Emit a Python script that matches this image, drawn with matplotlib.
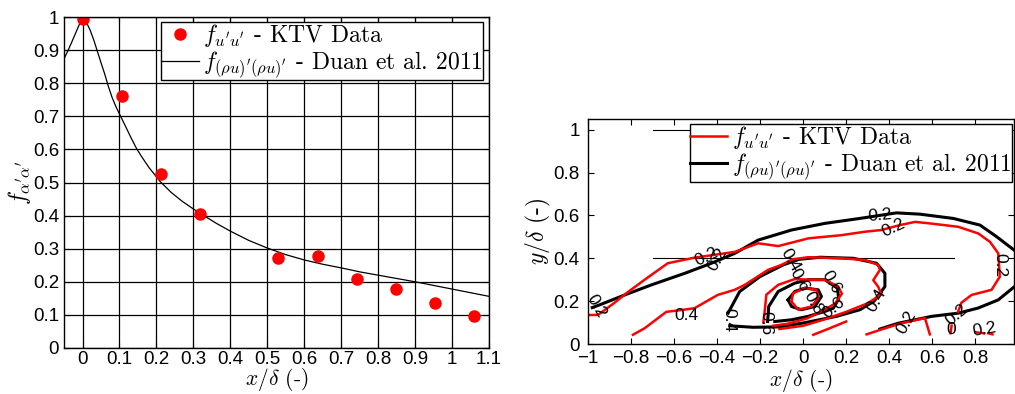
import matplotlib
matplotlib.use("Agg")
import matplotlib.pyplot as plt

plt.rcParams['font.family'] = ['Liberation Sans', 'DejaVu Sans']
plt.rcParams['mathtext.fontset'] = 'cm'

# left panel: KTV data points and Duan et al. 2011 curve
ktv_x = [0.0, 0.106, 0.212, 0.318, 0.53, 0.636, 0.742, 0.848, 0.954, 1.06]
ktv_f = [0.993, 0.761, 0.525, 0.406, 0.273, 0.277, 0.208, 0.179, 0.135, 0.098]

duan_x = [-0.05, -0.04, -0.03, -0.02, -0.01, 0.0, 0.01, 0.02, 0.03, 0.04, 0.05,
          0.06, 0.07, 0.08, 0.09, 0.103, 0.115, 0.13, 0.146, 0.16, 0.18, 0.21,
          0.24, 0.27, 0.3, 0.327, 0.36, 0.4, 0.45, 0.5, 0.55, 0.6, 0.65, 0.7,
          0.75, 0.8, 0.85, 0.9, 0.95, 1.0, 1.05, 1.1]
duan_f = [0.874, 0.897, 0.922, 0.948, 0.974, 0.997, 0.985, 0.962, 0.932, 0.897, 0.862,
          0.828, 0.79, 0.757, 0.73, 0.7, 0.673, 0.638, 0.603, 0.578, 0.545, 0.503,
          0.47, 0.443, 0.42, 0.401, 0.378, 0.353, 0.325, 0.302, 0.282, 0.266, 0.253, 0.242,
          0.23, 0.22, 0.21, 0.2, 0.189, 0.178, 0.167, 0.156]

xticks_l = [0, 0.1, 0.2, 0.3, 0.4, 0.5, 0.6, 0.7, 0.8, 0.9, 1, 1.1]
xlabels_l = ['0', '0.1', '0.2', '0.3', '0.4', '0.5', '0.6', '0.7', '0.8', '0.9', '1', '1.1']
yticks_l = [0, 0.1, 0.2, 0.3, 0.4, 0.5, 0.6, 0.7, 0.8, 0.9, 1]
ylabels_l = ['0', '0.1', '0.2', '0.3', '0.4', '0.5', '0.6', '0.7', '0.8', '0.9', '1']

# right panel: contour lines (x, y)
red_lines = [
    [(-1.0, 0.135), (-0.953, 0.136), (-0.88, 0.19), (-0.815, 0.242), (-0.738, 0.299),
     (-0.629, 0.377), (-0.505, 0.403), (-0.42, 0.415), (-0.318, 0.43), (-0.209, 0.47),
     (-0.116, 0.457), (0.024, 0.493), (0.178, 0.508), (0.287, 0.524), (0.364, 0.532),
     (0.45, 0.555), (0.52, 0.57), (0.597, 0.562), (0.721, 0.547), (0.814, 0.516),
     (0.868, 0.477), (0.907, 0.423), (0.914, 0.314), (0.876, 0.253), (0.783, 0.229),
     (0.736, 0.193), (0.72, 0.15)],
    [(-0.791, 0.043), (-0.736, 0.074), (-0.636, 0.15), (-0.57, 0.158), (-0.505, 0.167),
     (-0.397, 0.229), (-0.318, 0.253), (-0.271, 0.276), (-0.163, 0.346), (-0.101, 0.369),
     (-0.05, 0.395), (0.023, 0.405), (0.178, 0.4), (0.287, 0.392), (0.349, 0.369),
     (0.357, 0.346), (0.326, 0.298), (0.349, 0.267), (0.364, 0.232), (0.3, 0.19),
     (0.2, 0.15), (0.1, 0.115), (0.0, 0.085), (-0.11, 0.07)],
    [(-0.185, 0.1), (-0.178, 0.16), (-0.171, 0.23), (-0.116, 0.276), (-0.039, 0.303),
     (0.039, 0.3), (0.101, 0.3), (0.163, 0.268), (0.18, 0.235), (0.15, 0.19),
     (0.1, 0.16), (0.02, 0.12), (-0.07, 0.095), (-0.14, 0.085)],
    [(-0.054, 0.198), (-0.047, 0.237), (0.008, 0.261), (0.062, 0.253), (0.07, 0.214),
     (0.039, 0.175), (-0.023, 0.16), (-0.054, 0.198)],
    [(0.047, 0.043), (0.12, 0.072), (0.2, 0.105)],
    [(0.295, 0.045), (0.37, 0.07), (0.45, 0.095), (0.566, 0.121), (0.589, 0.045)],
    [(0.685, 0.05), (0.69, 0.085)],
    [(0.8, 0.055), (0.84, 0.05)],
    [(0.86, 0.05), (0.88, 0.045)],
]
black_lines = [
    [(-0.98, 0.17), (-0.945, 0.183), (-0.829, 0.229), (-0.705, 0.276), (-0.55, 0.33),
     (-0.426, 0.377), (-0.318, 0.423), (-0.209, 0.485), (-0.054, 0.532), (0.101, 0.563),
     (0.256, 0.585), (0.434, 0.612), (0.543, 0.606), (0.698, 0.586), (0.822, 0.555),
     (0.899, 0.501), (0.985, 0.435)],
    [(0.985, 0.27), (0.907, 0.206), (0.814, 0.168), (0.721, 0.144), (0.597, 0.129),
     (0.442, 0.097), (0.357, 0.07)],
    [(-0.349, 0.144), (-0.295, 0.245), (-0.2, 0.315), (-0.093, 0.369), (-0.02, 0.395),
     (0.078, 0.405), (0.233, 0.4), (0.341, 0.377), (0.38, 0.33), (0.38, 0.268),
     (0.33, 0.2), (0.264, 0.16), (0.155, 0.129), (0.0, 0.098), (-0.109, 0.08),
     (-0.233, 0.078), (-0.341, 0.085)],
    [(-0.165, 0.105), (-0.16, 0.175), (-0.116, 0.245), (-0.039, 0.284), (0.023, 0.3),
     (0.101, 0.3), (0.16, 0.26), (0.165, 0.21), (0.14, 0.167), (0.101, 0.152),
     (0.023, 0.129), (-0.054, 0.113), (-0.132, 0.105)],
    [(-0.07, 0.206), (-0.039, 0.245), (0.008, 0.261), (0.07, 0.253), (0.085, 0.222),
     (0.054, 0.175), (-0.008, 0.16), (-0.054, 0.175), (-0.07, 0.206)],
]
# contour labels: text, x, y, rotation
clabels = [
    ('0.2', 0.357, 0.602, 5), ('0.2', 0.419, 0.54, 25), ('0.2', -0.45, 0.405, 25),
    ('0.2', -0.4, 0.395, 60), ('0.2', 0.915, 0.369, -90), ('0.2', 0.713, 0.135, 40),
    ('0.2', 0.48, 0.1, 60), ('0', 0.69, 0.067, 0), ('0.2', 0.845, 0.067, 10),
    ('0.2', -0.961, 0.175, -60), ('0.4', -0.543, 0.135, 0), ('0.4', -0.06, 0.39, -60),
    ('0.4', 0.341, 0.206, 60), ('0.4', -0.345, 0.11, -90), ('0.6', -0.171, 0.098, -90),
    ('0.6', 0.132, 0.29, -60), ('0.6', 0.14, 0.167, 40), ('0.6', -0.02, 0.3, -60),
    ('0.8', 0.047, 0.19, -60),
]
ref_lines_y = [0.4, 1.0]
ref_lines_x = [-0.7, 0.7]

xticks_r = [-1, -0.8, -0.6, -0.4, -0.2, 0, 0.2, 0.4, 0.6, 0.8]
xlabels_r = ['\u22121', '\u22120.8', '\u22120.6', '\u22120.4', '\u22120.2', '0', '0.2', '0.4', '0.6', '0.8']
yticks_r = [0, 0.2, 0.4, 0.6, 0.8, 1]
ylabels_r = ['0', '0.2', '0.4', '0.6', '0.8', '1']

cm = {'family': 'cmr10', 'size': 17}
cm_lab = {'family': 'cmr10', 'size': 15.5}
tick_size = 13.5

fig = plt.figure(figsize=(10.15, 3.94), dpi=100)

ax1 = fig.add_axes([0.0631, 0.1168, 0.4187, 0.840])
ax1.plot(duan_x, duan_f, color='black', lw=0.9,
         label=r"$f_{(\rho u)'(\rho u)'}$ - Duan et al. 2011")
ax1.plot(ktv_x, ktv_f, 'o', color='red', ms=8, mec='red',
         label=r"$f_{u'u'}$ - KTV Data")
ax1.set_xlim(-0.05, 1.1)
ax1.set_ylim(0, 1)
ax1.set_xticks(xticks_l, xlabels_l)
ax1.set_yticks(yticks_l, ylabels_l)
ax1.grid(True, color='black', lw=0.9)
ax1.tick_params(direction='in', top=True, right=True, labelsize=tick_size, length=4)
ax1.tick_params(axis='x', pad=2)
ax1.set_xlabel(r'$x/\delta$ (-)', fontdict=cm_lab, labelpad=-1)
ax1.set_ylabel(r"$f_{\alpha'\alpha'}$", fontdict=cm, labelpad=0)
h, l = ax1.get_legend_handles_labels()
leg = ax1.legend(h[::-1], l[::-1], loc='upper right', bbox_to_anchor=(0.986, 0.985),
                 borderaxespad=0, prop=cm, fancybox=False, framealpha=1,
                 edgecolor='black', handlelength=1.6, handletextpad=0.2,
                 borderpad=0.0, labelspacing=0.0)
leg.get_frame().set_linewidth(1.0)
for s in ax1.spines.values():
    s.set_linewidth(1.0)

ax2 = fig.add_axes([0.5793, 0.1269, 0.4197, 0.571])
for y in ref_lines_y:
    ax2.plot(ref_lines_x, [y, y], color='black', lw=0.8)
for i, line in enumerate(black_lines):
    ax2.plot([p[0] for p in line], [p[1] for p in line], color='black', lw=2.2,
             label=r"$f_{(\rho u)'(\rho u)'}$ - Duan et al. 2011" if i == 0 else None)
for i, line in enumerate(red_lines):
    ax2.plot([p[0] for p in line], [p[1] for p in line], color='red', lw=1.8,
             label=r"$f_{u'u'}$ - KTV Data" if i == 0 else None)
for t, x, y, r in clabels:
    ax2.text(x, y, t, rotation=r, ha='center', va='center', fontsize=12.5)
ax2.set_xlim(-1, 0.98)
ax2.set_ylim(0, 1.05)
ax2.set_xticks(xticks_r, xlabels_r)
ax2.set_yticks(yticks_r, ylabels_r)
ax2.tick_params(direction='in', top=True, right=True, labelsize=tick_size, length=4)
ax2.tick_params(axis='x', pad=4)
ax2.tick_params(axis='y', pad=6)
ax2.set_xlabel(r'$x/\delta$ (-)', fontdict=cm_lab, labelpad=0)
ax2.set_ylabel(r'$y/\delta$ (-)', fontdict=cm, labelpad=0)
h, l = ax2.get_legend_handles_labels()
leg2 = ax2.legend(h[::-1], l[::-1], loc='upper right', bbox_to_anchor=(0.995, 0.978),
                  borderaxespad=0, prop=cm, fancybox=False, framealpha=1,
                  edgecolor='black', handlelength=1.6, handletextpad=0.2,
                  borderpad=0.0, labelspacing=0.0)
leg2.get_frame().set_linewidth(1.0)
for s in ax2.spines.values():
    s.set_linewidth(1.0)

fig.savefig('out.png', dpi=100)
